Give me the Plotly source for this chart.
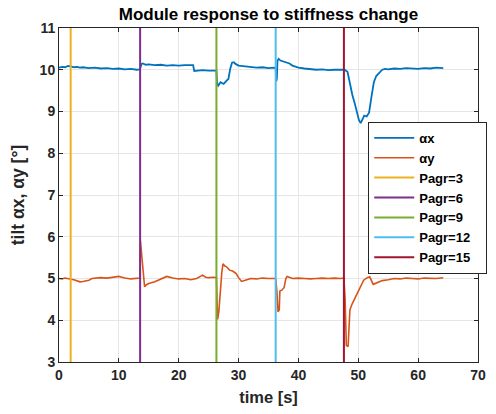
import plotly.graph_objects as go

# alpha_x data
t_x = [0, 0.5, 1, 1.5, 2, 2.5, 3, 3.5, 4, 5, 6, 7, 8, 9, 10, 11, 12, 13, 13.5,
       13.6, 13.8, 14, 14.5, 15, 16, 17, 18, 19, 20, 21, 22, 22.4,
       22.6, 23, 24, 25, 26, 26.3,
       26.4, 26.6, 27, 27.5, 28, 28.3, 28.6, 28.9, 29.2, 29.5, 30, 31, 32, 33, 34, 35, 36, 36.2,
       36.3, 36.4, 36.5, 36.7, 37, 37.5, 38, 38.5, 39, 40, 41, 42, 43, 44, 45, 46, 47, 47.7,
       48.2, 48.6, 49, 49.4, 49.8, 50.1, 50.4, 50.7, 51, 51.4, 51.8, 52.2, 52.6, 53, 53.5,
       54, 54.5, 55, 56, 57, 58, 59, 60, 61, 62, 63, 64.2]
alpha_x = [10.05, 10.07, 10.06, 10.09, 10.08, 10.06, 10.07, 10.05, 10.06, 10.04, 10.05, 10.03, 10.04, 10.02, 10.03, 10.01, 10.02, 10.00, 10.01,
           10.06, 10.14, 10.15, 10.12, 10.13, 10.11, 10.12, 10.10, 10.11, 10.10, 10.11, 10.10, 10.11,
           9.97, 9.98, 9.99, 9.98, 9.99, 9.98,
           9.68, 9.62, 9.70, 9.66, 9.74, 9.78, 10.02, 10.17, 10.18, 10.14, 10.10, 10.08, 10.07, 10.05, 10.06, 10.04, 10.05, 10.03,
           9.72, 9.80, 10.22, 10.26, 10.22, 10.20, 10.17, 10.15, 10.10, 10.05, 10.03, 10.01, 10.00, 10.01, 9.99, 10.00, 10.01, 10.00,
           9.95, 9.65, 9.40, 9.20, 8.95, 8.80, 8.72, 8.82, 8.90, 8.88, 8.97, 9.35, 9.70, 9.85, 9.93,
           10.00, 10.02, 10.01, 10.03, 10.02, 10.04, 10.03, 10.02, 10.04, 10.03, 10.05, 10.04]

# alpha_y data
t_y = [0, 0.5, 1, 1.5, 2, 2.5, 3, 3.5, 4, 4.5, 5, 5.5, 6, 7, 8, 9, 10, 10.5, 11, 12, 13, 13.5,
       13.6, 13.75, 13.9, 14.1, 14.3, 14.6, 15, 16, 17, 18, 19, 20, 21, 22, 23, 24, 24.5, 25, 26, 26.3,
       26.4, 26.5, 26.7, 27.0, 27.2, 27.4, 27.7, 28, 28.5, 29, 29.6, 30, 30.5, 31, 32, 33, 34, 35, 36, 36.2,
       36.4, 36.6, 36.8, 36.9, 37.2, 37.6, 37.9, 38.1, 39, 40, 41, 42, 43, 44, 45, 46, 47, 47.6,
       47.8, 47.9, 48.0, 48.3, 48.6, 49, 49.5, 50, 50.5, 50.9, 51.5, 51.9, 52.5, 53, 53.5, 54, 55,
       56, 57, 58, 59, 60, 61, 62, 63, 64.2]
alpha_y = [5.00, 4.99, 5.01, 4.99, 4.98, 4.97, 4.95, 4.92, 4.93, 4.95, 4.96, 5.00, 5.01, 5.02, 5.01, 5.03, 5.05, 5.03, 5.01, 4.99, 5.00, 5.01,
           5.90, 5.70, 5.50, 5.20, 4.80, 4.85, 4.88, 4.92, 4.98, 5.05, 5.01, 4.99, 5.00, 4.97, 5.00, 5.08, 5.03, 5.02, 5.03, 5.02,
           4.50, 4.02, 4.20, 4.90, 5.15, 5.35, 5.30, 5.28, 5.20, 5.18, 5.12, 5.02, 4.93, 4.95, 5.00, 4.99, 5.01, 5.00, 5.01, 5.00,
           4.70, 4.20, 4.25, 4.70, 4.72, 4.78, 5.00, 5.05, 5.00, 5.01, 5.00, 4.99, 5.00, 5.01, 5.00, 5.01, 5.00, 5.01,
           4.50, 3.80, 3.40, 3.37, 4.25, 4.40, 4.55, 4.72, 4.88, 4.96, 5.02, 5.04, 4.86, 4.89, 4.92, 4.95, 4.97,
           5.00, 4.99, 5.01, 5.00, 4.99, 5.01, 5.00, 5.00, 5.02]

# stiffness change markers
p_names = ["Pagr=3", "Pagr=6", "Pagr=9", "Pagr=12", "Pagr=15"]
p_times = [1.95, 13.55, 26.3, 36.2, 47.6]
p_colors = ["#EDB120", "#7E2F8E", "#77AC30", "#4DBEEE", "#A2142F"]

x_ticks = [0, 10, 20, 30, 40, 50, 60, 70]
y_ticks = [3, 4, 5, 6, 7, 8, 9, 10, 11]

fig = go.Figure()
fig.add_trace(go.Scatter(x=t_x, y=alpha_x, mode="lines", name="αx",
                         line=dict(color="#0072BD", width=1.8)))
fig.add_trace(go.Scatter(x=t_y, y=alpha_y, mode="lines", name="αy",
                         line=dict(color="#D95319", width=1.6)))
for n, t, c in zip(p_names, p_times, p_colors):
    fig.add_trace(go.Scatter(x=[t, t], y=[3, 11], mode="lines", name=n,
                             line=dict(color=c, width=2)))

font_fam = "Liberation Sans, Arial, sans-serif"
axis_common = dict(showgrid=True, gridcolor="#E6E6E6", gridwidth=1,
                   showline=True, linecolor="#262626", linewidth=1, mirror="allticks",
                   ticks="inside", ticklen=4, tickcolor="#262626", zeroline=False,
                   tickfont=dict(family=font_fam, size=14, color="#262626"))

fig.update_layout(
    width=496, height=414,
    margin=dict(l=59, r=9, t=28, b=52),
    paper_bgcolor="white", plot_bgcolor="white",
    title=dict(text="<b>Module response to stiffness change</b>", xref="paper", x=0.5, xanchor="center",
               y=0.966, yanchor="middle",
               font=dict(family=font_fam, size=17, color="black")),
    xaxis=dict(range=[0, 70], tickvals=x_ticks, ticktext=["<b>%d</b>" % v for v in x_ticks],
               title=dict(text="<b>time [s]</b>", font=dict(family=font_fam, size=16.5, color="#262626"),
                          standoff=9),
               **axis_common),
    yaxis=dict(range=[3, 11], tickvals=y_ticks, ticktext=["<b>%d</b>" % v for v in y_ticks],
               title=dict(text="<b>tilt αx, αy [°]</b>", font=dict(family=font_fam, size=17.5, color="#262626"),
                          standoff=10),
               **axis_common),
    legend=dict(x=0.738, y=0.719, xanchor="left", yanchor="top",
                bgcolor="white", bordercolor="#262626", borderwidth=1,
                font=dict(family=font_fam, size=13, color="black"),
                itemwidth=40, tracegroupgap=0),
    showlegend=True,
)
fig.for_each_trace(lambda tr: tr.update(name="<b>%s</b>&nbsp;&nbsp;&nbsp;" % tr.name))

fig.write_html("out.html")
